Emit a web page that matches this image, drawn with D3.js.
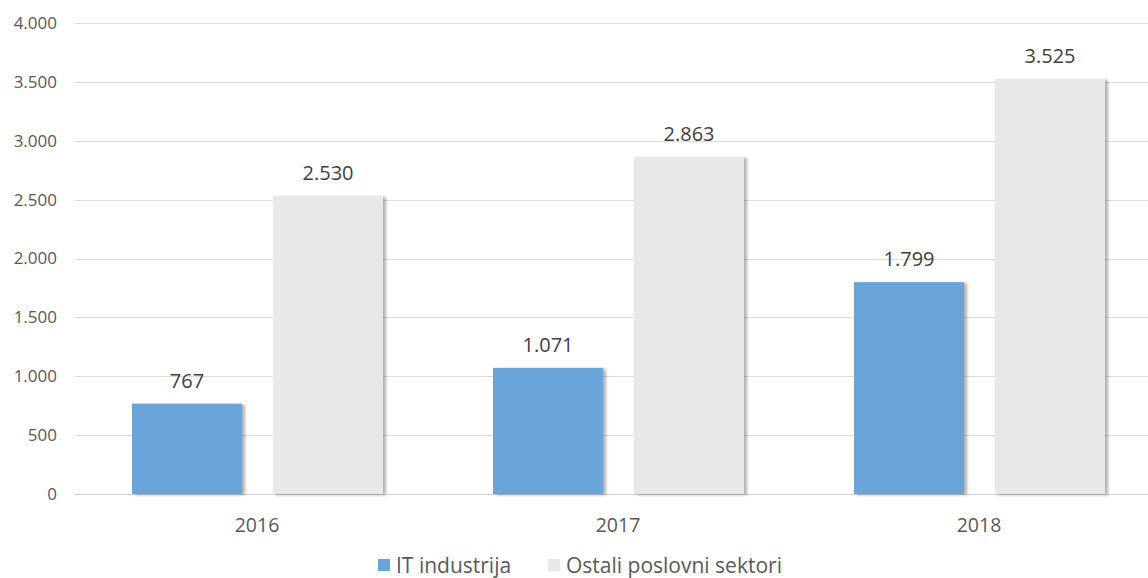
<!DOCTYPE html>
<html>
<head>
<meta charset="utf-8">
<script src="https://cdn.jsdelivr.net/npm/d3@7"></script>
<style>
  html, body { margin: 0; padding: 0; background: #fff; }
  svg { display: block; font-family: "Open Sans", "Noto Sans", sans-serif; }
</style>
</head>
<body>
<svg id="chart" width="1148" height="578"></svg>
<script>
const years = ["2016", "2017", "2018"];
const seriesNames = ["IT industrija", "Ostali poslovni sektori"];
const itValues = [767, 1071, 1799];
const otherValues = [2530, 2863, 3525];
const yTicks = [0, 500, 1000, 1500, 2000, 2500, 3000, 3500, 4000];
const colors = ["#6aa5d9", "#e8e8e8"];

const svg = d3.select("#chart");
const fmt = v => d3.format(",")(v).replace(/,/g, ".");

const x0 = d3.scaleBand().domain(years).range([76.5, 1159.5]).paddingInner(0).paddingOuter(0);
const x1 = d3.scaleBand().domain(seriesNames).range([55.5, 306.5]).paddingInner(31 / 141).paddingOuter(0);
const y = d3.scaleLinear().domain([0, 4000]).range([494, 23]);

const defs = svg.append("defs");
const f = defs.append("filter").attr("id", "shadow").attr("x", "-10%").attr("y", "-10%").attr("width", "130%").attr("height", "120%");
f.append("feDropShadow").attr("dx", 3).attr("dy", 1).attr("stdDeviation", 1.5).attr("flood-color", "#000").attr("flood-opacity", 0.3);

// horizontal gridlines and y tick labels
const yAxis = svg.append("g");
yAxis.selectAll("line").data(yTicks).join("line")
  .attr("x1", 75).attr("x2", 1148)
  .attr("y1", d => Math.round(y(d)) + 0.5).attr("y2", d => Math.round(y(d)) + 0.5)
  .attr("stroke", d => d === 0 ? "#cfcfcf" : "#dcdcdc").attr("stroke-width", 1);
yAxis.selectAll("text").data(yTicks).join("text")
  .attr("x", 57).attr("y", d => y(d)).attr("dy", "0.35em")
  .attr("text-anchor", "end").attr("fill", "#595959").attr("font-size", 17)
  .text(fmt);

const series = [itValues, otherValues];
const groups = svg.append("g").selectAll("g").data(years).join("g")
  .attr("transform", d => `translate(${x0(d)},0)`);

const cells = (d, i) => seriesNames.map((s, k) => ({ s, v: series[k][i], k }));

groups.selectAll("rect").data(cells)
  .join("rect")
  .attr("x", d => x1(d.s)).attr("width", x1.bandwidth())
  .attr("y", d => y(d.v)).attr("height", d => y(0) - y(d.v))
  .attr("fill", d => colors[d.k]).attr("filter", "url(#shadow)");

groups.selectAll("text.val").data(cells)
  .join("text").attr("class", "val")
  .attr("x", d => x1(d.s) + x1.bandwidth() / 2).attr("y", d => y(d.v) - 16)
  .attr("text-anchor", "middle").attr("fill", "#404040").attr("font-size", 20)
  .text(d => fmt(d.v));

// x axis category labels
svg.append("g").selectAll("text").data(years).join("text")
  .attr("x", d => x0(d) + x0.bandwidth() / 2).attr("y", 525).attr("dy", "0.35em")
  .attr("text-anchor", "middle").attr("fill", "#595959").attr("font-size", 19.5)
  .text(d => d);

// legend
const legend = svg.append("g");
const legendItems = [{ x: 378, name: seriesNames[0], c: colors[0] }, { x: 548, name: seriesNames[1], c: colors[1] }];
legendItems.forEach(it => {
  legend.append("rect").attr("x", it.x).attr("y", 559).attr("width", 12).attr("height", 12).attr("fill", it.c);
  legend.append("text").attr("x", it.x + 18).attr("y", 566).attr("dy", "0.35em")
    .attr("fill", "#595959").attr("font-size", 21).text(it.name);
});
</script>
</body>
</html>
